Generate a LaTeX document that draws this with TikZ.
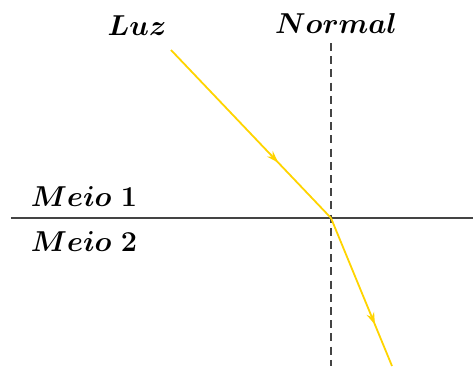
\documentclass[tikz,border=0pt]{standalone}
\usetikzlibrary{decorations.markings,arrows.meta}
\definecolor{ray}{HTML}{FFD400}
\definecolor{lin}{HTML}{444444}
\begin{document}
\begin{tikzpicture}[x=0.5pt,y=-0.5pt,
  lbl/.style={anchor=base,inner sep=0pt,font=\fontsize{14.4}{17}\selectfont\boldmath},
  surface/.style={draw=lin,line width=1pt},
  normalline/.style={draw=lin,line width=1pt,dash pattern=on 4pt off 2.6pt},
  raypath/.style={draw=ray,line width=0.9pt,postaction={decorate},
    decoration={markings,mark=at position #1 with {\arrow{Stealth[length=6pt,width=4pt]}}}}]
\useasboundingbox (0,0) rectangle (473,366);
\coordinate (SL) at (11,218);
\coordinate (SR) at (473,218);
\coordinate (NT) at (331,43);
\coordinate (NB) at (331,366);
\coordinate (S) at (171,50);
\coordinate (O) at (331,218);
\coordinate (E) at (392,366);
\path[surface] (SL) -- (SR);
\path[normalline] (NT) -- (NB);
\path[raypath=0.67] (S) -- (O);
\path[raypath=0.72] (O) -- (E);
\node[lbl] (luz) at (137,35) {$Luz$};
\node[lbl] (normal) at (336,33) {$Normal$};
\node[lbl] (m1) at (84,206) {$Meio\;1$};
\node[lbl] (m2) at (84,251) {$Meio\;2$};
\end{tikzpicture}
\end{document}
